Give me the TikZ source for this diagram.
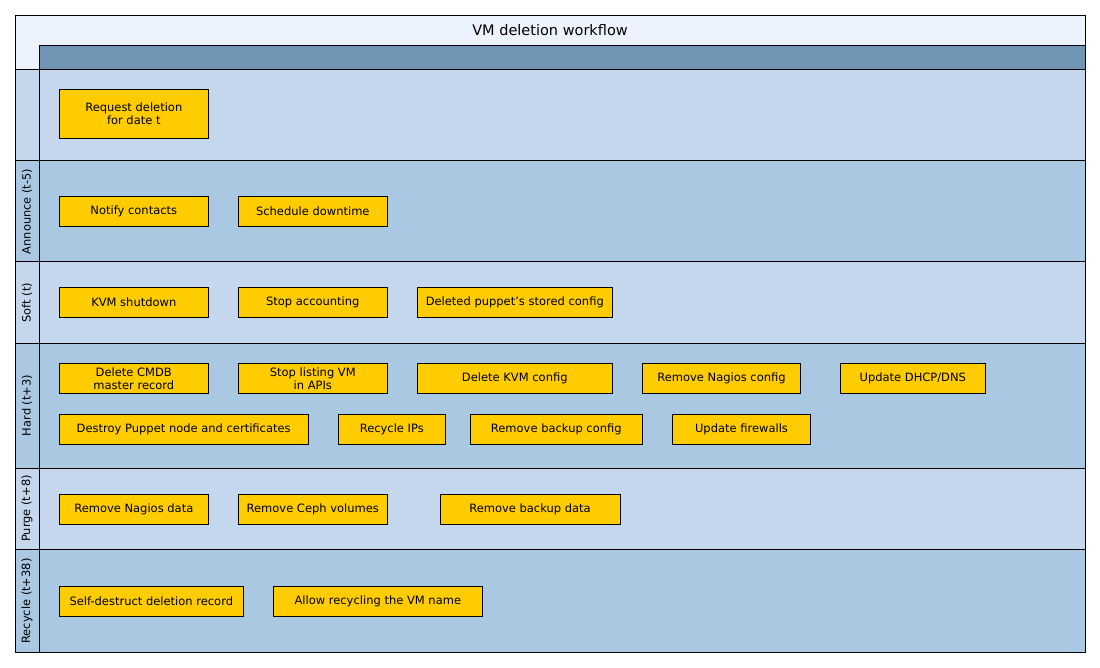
\documentclass[tikz,border=0pt]{standalone}
\usepackage{fontspec}
\setmainfont{DejaVu Sans}
\definecolor{titlebg}{HTML}{EDF3FE}
\definecolor{headbg}{HTML}{7094B4}
\definecolor{lanelight}{HTML}{C5D7ED}
\definecolor{lanedark}{HTML}{AAC8E2}
\definecolor{taskfill}{HTML}{FFCC00}
\begin{document}
\begin{tikzpicture}[x=1pt,y=-1pt,
  task/.style={draw=black, fill=taskfill, line width=0.8pt, minimum height=30pt, inner sep=0pt, align=center, font=\fontsize{11.5}{13.5}\selectfont},
  lanelab/.style={rotate=90, font=\fontsize{11.4}{13}\selectfont},
  frame/.style={draw=black, line width=0.9pt}]
\useasboundingbox (0,0) rectangle (1100,668);
% backgrounds
\fill[titlebg] (15,15) rectangle (1085,69);
\fill[headbg] (39,45) rectangle (1085,69);
\fill[lanelight] (15,69) rectangle (1085,160);
\fill[lanedark] (15,160) rectangle (1085,261);
\fill[lanelight] (15,261) rectangle (1085,343);
\fill[lanedark] (15,343) rectangle (1085,468);
\fill[lanelight] (15,468) rectangle (1085,549);
\fill[lanedark] (15,549) rectangle (1085,652);
% lines
\draw[frame] (15,15) rectangle (1085,652);
\draw[frame] (39,45) -- (1085,45);
\draw[frame] (39,45) -- (39,652);
\foreach \yy in {69,160,261,343,468,549} \draw[frame] (15,\yy) -- (1085,\yy);
% title
\node[font=\fontsize{14.5}{16}\selectfont] (title) at (550,30) {VM deletion workflow};
% lane labels
\node[lanelab] (l1) at (27,211.5) {Announce (t-5)};
\node[lanelab] (l2) at (27,302.5) {Soft (t)};
\node[lanelab] (l3) at (27,405.5) {Hard (t+3)};
\node[lanelab] (l4) at (27,508.5) {Purge (t+8)};
\node[lanelab] (l5) at (27,601) {Recycle (t+38)};
% tasks
\node[task, minimum width=149.5pt, minimum height=49pt] (req) at (133.8,113.8) {Request deletion\\for date t};
\node[task, minimum width=149.5pt] (notify) at (133.8,211.3) {Notify contacts};
\node[task, minimum width=149.5pt] (sched) at (312.8,211.3) {Schedule downtime};
\node[task, minimum width=149.5pt] (kvmshut) at (133.8,302.3) {KVM shutdown};
\node[task, minimum width=149.5pt] (stopacc) at (312.8,302.3) {Stop accounting};
\node[task, minimum width=195pt] (puppetcfg) at (514.8,302.3) {Deleted puppet's stored config};
\node[task, minimum width=149.5pt] (cmdb) at (133.8,378.5) {Delete CMDB\\master record};
\node[task, minimum width=149.5pt] (stoplist) at (312.8,378.5) {Stop listing VM\\in APIs};
\node[task, minimum width=195pt] (kvmcfg) at (514.8,378.5) {Delete KVM config};
\node[task, minimum width=158.4pt] (nagcfg) at (721.5,378.5) {Remove Nagios config};
\node[task, minimum width=145pt] (dhcp) at (912.8,378.5) {Update DHCP/DNS};
\node[task, minimum width=249.3pt] (puppetnode) at (183.7,429.5) {Destroy Puppet node and certificates};
\node[task, minimum width=107pt] (ips) at (391.8,429.5) {Recycle IPs};
\node[task, minimum width=172pt] (bkcfg) at (556.3,429.5) {Remove backup config};
\node[task, minimum width=138.4pt] (fw) at (741.5,429.5) {Update firewalls};
\node[task, minimum width=149.5pt] (nagdata) at (133.8,509.5) {Remove Nagios data};
\node[task, minimum width=149.5pt] (ceph) at (312.8,509.5) {Remove Ceph volumes};
\node[task, minimum width=180pt] (bkdata) at (530,509.5) {Remove backup data};
\node[task, minimum width=184.7pt] (selfd) at (151.3,601.3) {Self-destruct deletion record};
\node[task, minimum width=209pt] (allow) at (377.8,601.3) {Allow recycling the VM name};
\end{tikzpicture}
\end{document}
